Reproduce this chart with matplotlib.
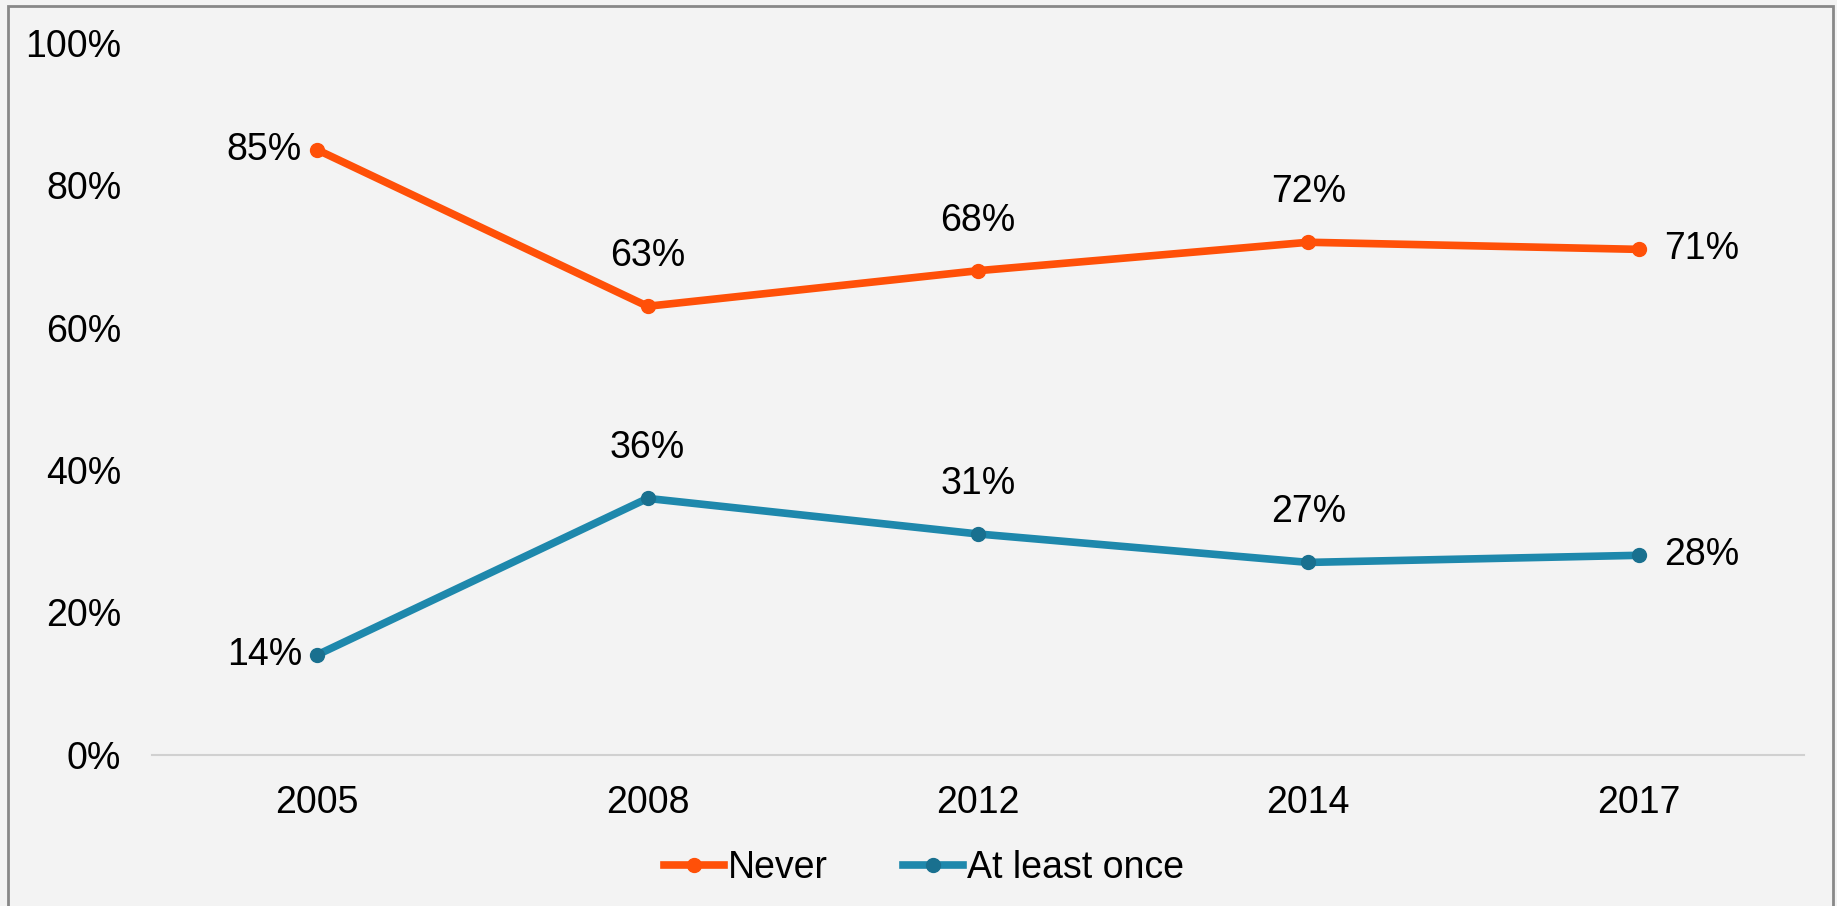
import matplotlib.pyplot as plt
from matplotlib.patches import Rectangle

years = ['2005', '2008', '2012', '2014', '2017']
never = [85, 63, 68, 72, 71]
at_least_once = [14, 36, 31, 27, 28]
yticks = [0, 20, 40, 60, 80, 100]

plt.rcParams['font.family'] = ['Liberation Sans', 'DejaVu Sans']

orange = '#FF5008'
teal = '#1E88AC'
bg = '#F3F3F3'
fs = 27

fig = plt.figure(figsize=(18.37, 9.06), dpi=100, facecolor=bg)
ax = fig.add_axes([0.0827, 0.1672, 0.8993, 0.7853])
ax.set_facecolor(bg)

x = list(range(len(years)))
ax.plot(x, never, color=orange, lw=5.5, marker='o', ms=10, mfc=orange, mec=orange, label='Never')
ax.plot(x, at_least_once, color=teal, lw=5.5, marker='o', ms=10, mfc='#19708F', mec='#19708F',
        label='At least once')

# data labels: first point left, last point right, others above
def label_series(vals):
    for i, v in enumerate(vals):
        if i == 0:
            off, ha, va = (-15, 0), 'right', 'center'
        elif i == len(vals) - 1:
            off, ha, va = (25, 0), 'left', 'center'
        else:
            off, ha, va = (0, 50), 'center', 'center'
        ax.annotate(f'{v}%', (i, v), xytext=off, textcoords='offset pixels',
                    ha=ha, va=va, fontsize=fs, color='black')

label_series(never)
label_series(at_least_once)

ax.set_xlim(-0.5, len(years) - 0.5)
ax.set_ylim(0, 100)
ax.set_xticks(x)
ax.set_xticklabels(years)
ax.set_yticks(yticks)
ax.set_yticklabels([f'{t}%' for t in yticks])
ax.tick_params(axis='both', length=0, labelsize=fs, colors='black')
ax.tick_params(axis='y', pad=22)
ax.tick_params(axis='x', pad=22)

for s in ['top', 'right', 'left']:
    ax.spines[s].set_visible(False)
ax.spines['bottom'].set_color('#D0D0D0')
ax.spines['bottom'].set_linewidth(1.5)

ax.legend(loc='center', bbox_to_anchor=(924 / 1837, 1 - 868 / 906), bbox_transform=fig.transFigure,
          ncol=2, frameon=False, fontsize=fs, handlelength=1.6, handletextpad=0.1,
          columnspacing=2.0)

fig.patches.append(Rectangle((8 / 1837, -0.05), 1825 / 1837, 1.05 - 6 / 906,
                             transform=fig.transFigure, fill=False, edgecolor='#888888', lw=2))

fig.savefig('out.png', dpi=100, facecolor=bg)
